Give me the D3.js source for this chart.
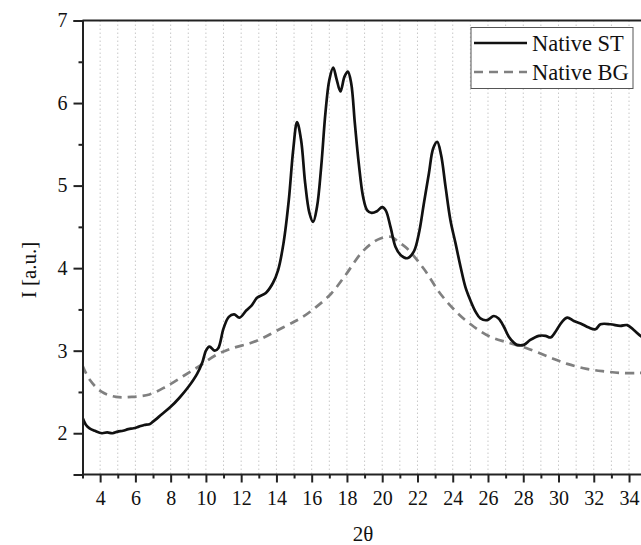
<!DOCTYPE html>
<html>
<head>
<meta charset="utf-8">
<script src="https://cdn.jsdelivr.net/npm/d3@7"></script>
<style>
  html, body { margin: 0; padding: 0; background: #fff; }
  svg { display: block; }
  text { font-family: "Liberation Serif", "DejaVu Serif", serif; fill: #111; }
</style>
</head>
<body>
<svg id="chart" width="641" height="545"></svg>
<script>
// Diffraction pattern: 2θ positions and intensities (a.u.)
const stTheta = [3.0, 3.2, 3.4, 3.7, 4.1, 4.4, 4.7, 5.0, 5.3, 5.6, 5.9, 6.2, 6.5, 6.8, 7.0, 7.5, 8.0, 8.5, 9.0, 9.5, 9.8,
  10.0, 10.2, 10.5, 10.7, 11.0, 11.3, 11.6, 11.9, 12.3, 12.6, 12.9, 13.4, 13.8, 14.1, 14.4, 14.7, 14.95, 15.17, 15.4,
  15.63, 15.87, 16.08, 16.3, 16.54, 16.78, 17.0, 17.22, 17.4, 17.63, 17.86, 18.05, 18.24, 18.45, 18.67, 18.92, 19.15,
  19.4, 19.7, 20.0, 20.2, 20.47, 20.75, 21.04, 21.42, 21.79, 22.08, 22.36, 22.65, 22.89, 23.12, 23.34, 23.59, 23.87,
  24.16, 24.44, 24.72, 25.0, 25.3, 25.57, 25.95, 26.33, 26.6, 26.9, 27.18, 27.46, 27.65, 28.03, 28.4, 28.88, 29.26,
  29.55, 29.83, 30.2, 30.5, 30.87, 31.25, 31.72, 32.1, 32.38, 32.95, 33.5, 33.9, 34.27, 34.65, 35.0];
const stIntensity = [2.19, 2.10, 2.06, 2.03, 2.00, 2.01, 2.00, 2.02, 2.03, 2.05, 2.06, 2.08, 2.10, 2.11, 2.14, 2.23, 2.32, 2.43, 2.56, 2.72, 2.86,
  3.00, 3.05, 3.00, 3.03, 3.27, 3.41, 3.44, 3.40, 3.49, 3.55, 3.64, 3.70, 3.82, 3.98, 4.30, 4.82, 5.43, 5.77, 5.55,
  5.03, 4.67, 4.56, 4.74, 5.23, 5.88, 6.28, 6.43, 6.30, 6.14, 6.32, 6.38, 6.24, 5.75, 5.27, 4.86, 4.70,
  4.67, 4.69, 4.74, 4.70, 4.50, 4.26, 4.16, 4.12, 4.20, 4.42, 4.78, 5.15, 5.45, 5.53, 5.37, 4.99, 4.58,
  4.30, 4.02, 3.77, 3.61, 3.47, 3.39, 3.37, 3.42, 3.39, 3.29, 3.17, 3.10, 3.07, 3.07, 3.13, 3.18, 3.18,
  3.16, 3.23, 3.35, 3.40, 3.36, 3.33, 3.28, 3.26, 3.32, 3.32, 3.30, 3.31, 3.25, 3.18, 3.14];

const bgTheta = [3.0, 3.4, 4.1, 4.9, 5.8, 6.8, 7.7, 8.7, 9.6, 10.6, 11.5, 12.5, 13.2, 14.0, 15.0, 15.5, 16.2, 17.1, 17.9,
  18.8, 19.4, 19.9, 20.5, 20.9, 21.4, 22.4, 23.3, 24.3, 25.2, 26.1, 27.1, 28.2, 29.5, 30.5, 31.6, 32.6, 33.6, 34.6, 35.0];
const bgIntensity = [2.82, 2.65, 2.50, 2.44, 2.44, 2.47, 2.56, 2.69, 2.81, 2.95, 3.03, 3.09, 3.15, 3.24, 3.35, 3.41, 3.52, 3.69, 3.91,
  4.18, 4.30, 4.36, 4.38, 4.32, 4.24, 3.98, 3.69, 3.45, 3.29, 3.17, 3.10, 3.03, 2.92, 2.84, 2.78, 2.75, 2.73, 2.73, 2.73];

const xTicks = [4, 6, 8, 10, 12, 14, 16, 18, 20, 22, 24, 26, 28, 30, 32, 34];
const yTicks = [2, 3, 4, 5, 6, 7];
const seriesNames = ["Native ST", "Native BG"];

const svg = d3.select("#chart");
const plotLeft = 82.5, plotTop = 20.5, plotBottom = 474.5, plotRight = 641;
const x = d3.scaleLinear().domain([3, 35]).range([plotLeft, plotLeft + 32 * 17.63]);
const y = d3.scaleLinear().domain([1.5, 7]).range([plotBottom, plotTop]);

// vertical dotted grid at every integer 2θ
const gridVals = d3.range(4, 35);
svg.append("g").selectAll("line").data(gridVals).join("line")
  .attr("x1", d => x(d)).attr("x2", d => x(d))
  .attr("y1", plotTop).attr("y2", plotBottom)
  .attr("stroke", "#c8c8c8").attr("stroke-width", 1)
  .attr("stroke-dasharray", "1.5,2.5");

// clip for curves
svg.append("clipPath").attr("id", "plotclip").append("rect")
  .attr("x", plotLeft).attr("y", plotTop).attr("width", plotRight - plotLeft).attr("height", plotBottom - plotTop);

const line = d3.line().x(d => x(d[0])).y(d => y(d[1])).curve(d3.curveCatmullRom.alpha(0.5));

svg.append("path")
  .datum(d3.zip(bgTheta, bgIntensity))
  .attr("clip-path", "url(#plotclip)")
  .attr("d", line).attr("fill", "none")
  .attr("stroke", "#808080").attr("stroke-width", 2.7)
  .attr("stroke-dasharray", "9,6");

svg.append("path")
  .datum(d3.zip(stTheta, stIntensity))
  .attr("clip-path", "url(#plotclip)")
  .attr("d", line).attr("fill", "none")
  .attr("stroke", "#111").attr("stroke-width", 2.7)
  .attr("stroke-linejoin", "round");

// top frame
svg.append("line").attr("x1", plotLeft).attr("x2", plotRight).attr("y1", plotTop).attr("y2", plotTop)
  .attr("stroke", "#222").attr("stroke-width", 2);

// bottom axis: major ticks on even values, minor on odd
const xAxis = svg.append("g").attr("transform", `translate(0,${plotBottom})`)
  .call(d3.axisBottom(x).tickValues(xTicks).tickSize(8).tickPadding(8).tickFormat(d3.format("d")));
svg.append("g").attr("transform", `translate(0,${plotBottom})`)
  .call(d3.axisBottom(x).tickValues(d3.range(3, 35, 2)).tickSize(4).tickFormat(""))
  .select(".domain").remove();
xAxis.select(".domain").attr("d", `M${plotLeft},0H${plotRight}`);

// left axis
const yAxis = svg.append("g").attr("transform", `translate(${plotLeft},0)`)
  .call(d3.axisLeft(y).tickValues(yTicks).tickSize(9).tickPadding(6).tickFormat(d3.format("d")));
svg.append("g").attr("transform", `translate(${plotLeft},0)`)
  .call(d3.axisLeft(y).tickValues([2.5, 3.5, 4.5, 5.5, 6.5]).tickSize(4).tickFormat(""))
  .select(".domain").remove();

[xAxis, yAxis].forEach(g => g.attr("font-family", "Liberation Serif, serif").attr("font-size", 20));
svg.selectAll(".tick line").attr("stroke", "#222").attr("stroke-width", 2);
svg.selectAll(".domain").attr("stroke", "#222").attr("stroke-width", 2);
svg.selectAll(".tick text").attr("fill", "#111");

// axis titles
svg.append("text").attr("x", 363).attr("y", 541).attr("text-anchor", "middle")
  .style("font-size", "21px").text("2θ");
svg.append("text").attr("transform", "translate(36,270) rotate(-90)").attr("text-anchor", "middle")
  .style("font-size", "21px").text("I [a.u.]");

// legend
const lg = svg.append("g");
lg.append("rect").attr("x", 471).attr("y", 27.5).attr("width", 162).attr("height", 61)
  .attr("fill", "#fff").attr("stroke", "#555").attr("stroke-width", 1);
const legendStyles = [{ stroke: "#111", dash: null }, { stroke: "#808080", dash: "9,6" }];
seriesNames.forEach((name, i) => {
  const cy = 43 + i * 29;
  lg.append("line").attr("x1", 474).attr("x2", 527).attr("y1", cy).attr("y2", cy)
    .attr("stroke", legendStyles[i].stroke).attr("stroke-width", 2.6)
    .attr("stroke-dasharray", legendStyles[i].dash);
  lg.append("text").attr("x", 532).attr("y", cy + 8).style("font-size", "22.5px").text(name);
});
</script>
</body>
</html>
